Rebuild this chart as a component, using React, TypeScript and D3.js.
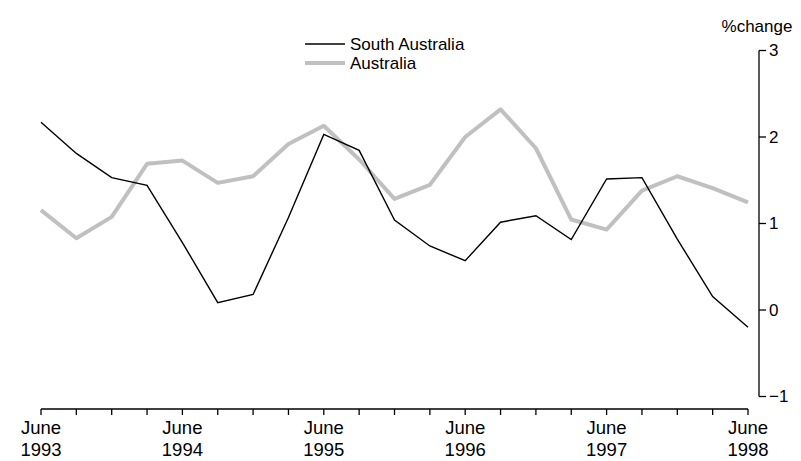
import React from 'react';
import * as d3 from 'd3';

const quarters = d3.range(21);
const yearLabels = ['1993', '1994', '1995', '1996', '1997', '1998'];
const yTicks = [-1, 0, 1, 2, 3];

const southAustralia = [
  2.17, 1.81, 1.53, 1.44, 0.78, 0.085, 0.18, 1.07, 2.03, 1.845, 1.04,
  0.74, 0.57, 1.015, 1.09, 0.815, 1.515, 1.53, 0.82, 0.155, -0.2,
];
const australia = [
  1.155, 0.83, 1.077, 1.69, 1.727, 1.47, 1.546, 1.92, 2.13, 1.74, 1.285,
  1.446, 2.0, 2.32, 1.87, 1.046, 0.93, 1.38, 1.546, 1.41, 1.245,
];

const W = 801;
const H = 461;
const font = '"Liberation Sans", Arial, sans-serif';

export default function App() {
  const x = d3.scaleLinear().domain([0, 20]).range([41, 748]);
  const y = d3.scaleLinear().domain([-1, 3]).range([396.5, 50.5]);
  const axisX = 759;
  const baseY = 409;

  const line = d3.line<number>()
    .x((_, i) => x(i))
    .y(d => y(d));

  return (
    <svg width={W} height={H} style={{ position: 'absolute', left: 0, top: 0, background: '#fff' }}
      fontFamily={font}>
      {/* series */}
      <path d={line(australia) || ''} fill="none" stroke="#c0c0c0" strokeWidth={4} strokeLinejoin="round" />
      <path d={line(southAustralia) || ''} fill="none" stroke="#000" strokeWidth={1.4} />

      {/* y axis on right */}
      <line x1={axisX} x2={axisX} y1={y(3)} y2={y(-1)} stroke="#000" strokeWidth={1.3} />
      {yTicks.map(t => (
        <g key={t}>
          <line x1={axisX} x2={axisX + 7} y1={y(t)} y2={y(t)} stroke="#000" strokeWidth={1.3} />
          <text x={axisX + 10} y={y(t)} dy="0.35em" fontSize={17}>
            {t < 0 ? `\u2212${Math.abs(t)}` : t}
          </text>
        </g>
      ))}
      <text x={axisX - 2} y={32} textAnchor="middle" fontSize={17}>%change</text>

      {/* x axis */}
      <line x1={x(0)} x2={x(20)} y1={baseY} y2={baseY} stroke="#000" strokeWidth={1.3} />
      {quarters.map(q => (
        <line key={q} x1={x(q)} x2={x(q)} y1={baseY} y2={baseY + 6} stroke="#000" strokeWidth={1.3} />
      ))}
      {yearLabels.map((yr, i) => (
        <g key={yr}>
          <text x={x(i * 4)} y={434} textAnchor="middle" fontSize={18.5}>June</text>
          <text x={x(i * 4)} y={456} textAnchor="middle" fontSize={18.5}>{yr}</text>
        </g>
      ))}

      {/* legend */}
      <line x1={305} x2={345} y1={44} y2={44} stroke="#000" strokeWidth={1.4} />
      <text x={350} y={44} dy="0.35em" fontSize={17}>South Australia</text>
      <line x1={305} x2={345} y1={63} y2={63} stroke="#c0c0c0" strokeWidth={4} />
      <text x={350} y={63} dy="0.35em" fontSize={17}>Australia</text>
    </svg>
  );
}
